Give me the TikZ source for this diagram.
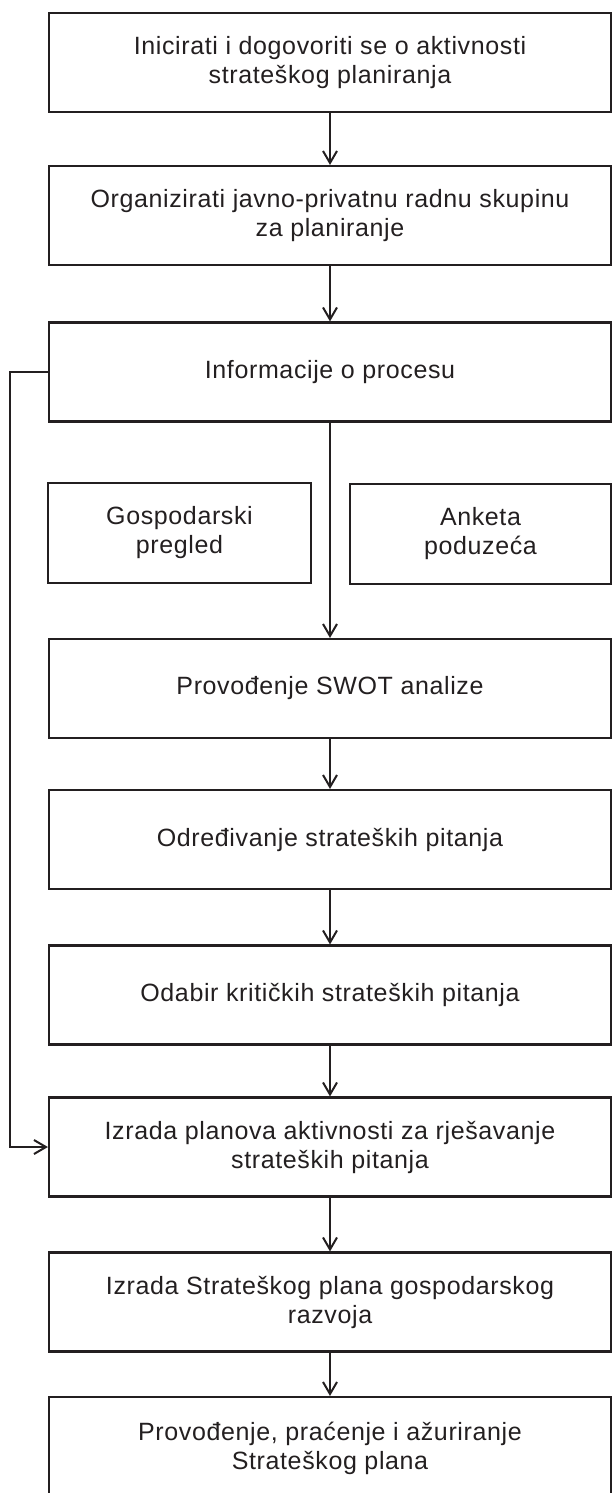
\documentclass[tikz,border=0pt]{standalone}
\usepackage{fontspec}
\setmainfont{Liberation Sans}[LetterSpace=2.5]
\usetikzlibrary{arrows.meta}
\definecolor{ink}{HTML}{231F20}
\begin{document}
\begin{tikzpicture}[x=1pt,y=-1pt,
  stepbox/.style={draw=ink, line width=2.1pt, minimum width=562pt, minimum height=99pt,
    inner sep=0pt, align=center, text=ink, font=\fontsize{25}{29}\selectfont},
  smallbox/.style={stepbox, minimum height=100pt},
  arr/.style={draw=ink, line width=2pt, -{Straight Barb[length=12pt,width=14pt,line width=2pt]}}]
\useasboundingbox (0,0) rectangle (612,1493);
\node[stepbox] (b1) at (330,62.5) {Inicirati i dogovoriti se o aktivnosti\\strateškog planiranja};
\node[stepbox] (b2) at (330,215.5) {Organizirati javno-privatnu radnu skupinu\\za planiranje};
\node[stepbox] (b3) at (330,372) {Informacije o procesu};
\node[smallbox, minimum width=263pt] (g) at (179.5,533) {Gospodarski\\pregled};
\node[smallbox, minimum width=261pt] (a) at (480.5,534) {Anketa\\poduzeća};
\node[stepbox] (b4) at (330,688.5) {Provođenje SWOT analize};
\node[stepbox] (b5) at (330,839.5) {Određivanje strateških pitanja};
\node[stepbox] (b6) at (330,995) {Odabir kritičkih strateških pitanja};
\node[stepbox] (b7) at (330,1147) {Izrada planova aktivnosti za rješavanje\\strateških pitanja};
\node[stepbox] (b8) at (330,1302) {Izrada Strateškog plana gospodarskog\\razvoja};
\node[stepbox, minimum height=102pt] (b9) at (330,1448) {Provođenje, praćenje i ažuriranje\\Strateškog plana};
\coordinate (fb) at (10,372);
\draw[arr] (b1.south) -- (b2.north);
\draw[arr] (b2.south) -- (b3.north);
\draw[arr] (b3.south) -- (b4.north);
\draw[arr] (b4.south) -- (b5.north);
\draw[arr] (b5.south) -- (b6.north);
\draw[arr] (b6.south) -- (b7.north);
\draw[arr] (b7.south) -- (b8.north);
\draw[arr] (b8.south) -- (b9.north);
\draw[arr] (b3.west) -- (fb) |- (b7.west);
\end{tikzpicture}
\end{document}
